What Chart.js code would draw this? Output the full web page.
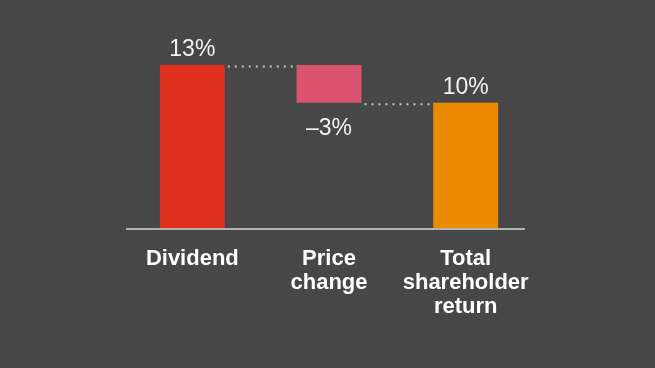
<!DOCTYPE html>
<html>
<head>
<meta charset="utf-8">
<script src="https://cdn.jsdelivr.net/npm/chart.js@4"></script>
<style>
  html, body { margin: 0; padding: 0; background: #474747; }
  #wrap { width: 655px; height: 368px; }
</style>
</head>
<body>
<div id="wrap"><canvas id="chart" width="655" height="368"></canvas></div>
<script>
// categories, ranges (start, end) and value labels of the waterfall
const categories = [['Dividend'], ['Price', 'change'], ['Total', 'shareholder', 'return']];
const barStart = [0, 10, 0];
const barEnd = [13, 13, 10];
const valueLabels = ['13%', '\u20133%', '10%'];
const barColors = ['#e0301e', '#dc536d', '#eb8c00'];

const FONT = '"Liberation Sans", Arial, sans-serif';

// dotted connectors + baseline + value labels
const waterfallDeco = {
    id: 'waterfallDeco',
    afterDatasetsDraw(chart) {
        const ctx = chart.ctx;
        const meta = chart.getDatasetMeta(0);
        const y = chart.scales.y;
        const area = chart.chartArea;

        // baseline
        ctx.save();
        ctx.strokeStyle = '#b4b4b4';
        ctx.lineWidth = 2;
        ctx.beginPath();
        ctx.moveTo(area.left + 2, y.getPixelForValue(0));
        ctx.lineTo(area.right - 9, y.getPixelForValue(0));
        ctx.stroke();

        // connectors: end of one bar to the next bar
        ctx.strokeStyle = '#c8c8c8';
        ctx.setLineDash([2, 5]);
        for (let i = 0; i < meta.data.length - 1; i++) {
            const a = meta.data[i], b = meta.data[i + 1];
            const level = i === 0 ? barEnd[0] : barStart[1];
            const py = y.getPixelForValue(level) + 1.5;
            ctx.beginPath();
            ctx.moveTo(a.x + a.width / 2 + 3, py);
            ctx.lineTo(b.x - b.width / 2 - 3, py);
            ctx.stroke();
        }
        ctx.setLineDash([]);

        // value labels
        ctx.fillStyle = '#f2f2f2';
        ctx.font = '23px ' + FONT;
        ctx.textAlign = 'center';
        meta.data.forEach((bar, i) => {
            const negative = i === 1;
            if (negative) {
                ctx.textBaseline = 'top';
                ctx.fillText(valueLabels[i], bar.x, y.getPixelForValue(barStart[i]) + 14);
            } else {
                ctx.textBaseline = 'alphabetic';
                ctx.fillText(valueLabels[i], bar.x, y.getPixelForValue(barEnd[i]) - 9);
            }
        });
        ctx.restore();
    }
};

new Chart(document.getElementById('chart'), {
    type: 'bar',
    data: {
        labels: categories,
        datasets: [{
            data: barStart.map((s, i) => [s, barEnd[i]]),
            backgroundColor: barColors,
            borderWidth: 0,
            barPercentage: 0.475,
            categoryPercentage: 1
        }]
    },
    options: {
        responsive: false,
        animation: false,
        layout: { padding: { left: 124, right: 121, top: 27, bottom: 31 } },
        plugins: { legend: { display: false }, tooltip: { enabled: false } },
        scales: {
            x: {
                grid: { display: false, drawTicks: false },
                border: { display: false },
                ticks: {
                    color: '#ffffff',
                    padding: 18,
                    font: { family: FONT, size: 22, weight: 'bold', lineHeight: 1.09 }
                }
            },
            y: {
                display: false,
                min: 0,
                max: 16
            }
        }
    },
    plugins: [waterfallDeco]
});
</script>
</body>
</html>
